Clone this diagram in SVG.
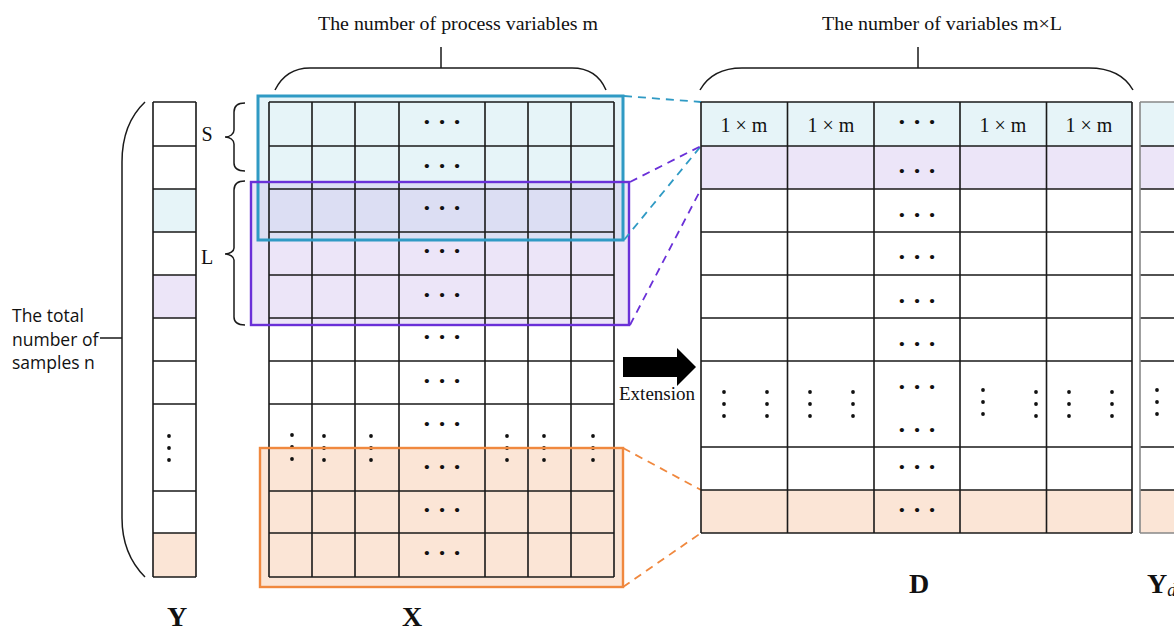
<svg xmlns="http://www.w3.org/2000/svg" xmlns:xlink="http://www.w3.org/1999/xlink" width="1174" height="633" viewBox="0 0 1174 633">
<style>
.grid{stroke:#1a1a1a;stroke-width:1.6;fill:none}
.gridg{stroke:#888;stroke-width:1.6;fill:none}
.br{stroke:#1a1a1a;stroke-width:1.5;fill:none}
.serif{font-family:"Liberation Serif","Times New Roman",serif;fill:#111}
.sans{font-family:"Open Sans","Noto Sans",sans-serif;fill:#111;font-size:17.5px}
.title{font-size:19px}
.lbl{font-size:28px;font-weight:bold}
.hd{font-family:"Liberation Serif",serif;font-size:26px;font-weight:bold;fill:#111;text-anchor:middle}
.cell{font-size:20px;text-anchor:middle}
.fb{fill:#e6f4f8}
.fp{fill:#ece5f8}
.fo{fill:#fbe5d6}
.dash-b{stroke:#2f9ac4;stroke-width:1.8;stroke-dasharray:8 6;fill:none}
.dash-p{stroke:#6a30d8;stroke-width:1.8;stroke-dasharray:8 6;fill:none}
.dash-o{stroke:#f0883e;stroke-width:1.8;stroke-dasharray:8 6;fill:none}
</style>
<defs>
<g id="vd"><circle cx="0" cy="0" r="1.9" fill="#111"/><circle cx="0" cy="12" r="1.9" fill="#111"/><circle cx="0" cy="24" r="1.9" fill="#111"/></g>
</defs>

<!-- titles and braces -->
<g id="title-x">
<text class="serif title" x="458" y="30" text-anchor="middle" textLength="280" lengthAdjust="spacingAndGlyphs">The number of process variables m</text>
<path class="br" d="M275,90 C282,76 293,68 310,68 L572,68 C589,68 600,76 606,90 M441,47 L441,68"/>
</g>
<g id="title-d">
<text class="serif title" x="942" y="30" text-anchor="middle" textLength="240" lengthAdjust="spacingAndGlyphs">The number of variables m×L</text>
<path class="br" d="M700,90 C708,76 722,68 742,68 L1089,68 C1110,68 1125,76 1133,90 M918,47 L918,68"/>
</g>

<!-- total samples label -->
<g id="label-n">
<text class="sans" x="12" y="322">The total</text>
<text class="sans" x="12" y="346">number of</text>
<text class="sans" x="12" y="369">samples n</text>
<path class="br" d="M100,338 L122,338 M145,102 C128,118 122,140 122,162 L122,518 C122,542 130,562 145,577"/>
</g>

<!-- Y column -->
<g id="matrix-Y">
<rect class="fb" x="153" y="189" width="43" height="43"/>
<rect class="fp" x="153" y="275" width="43" height="43"/>
<rect class="fo" x="153" y="533" width="43" height="44"/>
<path class="grid" d="M153,102 H196 M153,146 H196 M153,189 H196 M153,232 H196 M153,275 H196 M153,318 H196 M153,361 H196 M153,404 H196 M153,491 H196 M153,533 H196 M153,577 H196 M153,102 V577 M196,102 V577"/>
<use xlink:href="#vd" x="169" y="436"/>
<text class="serif lbl" x="177" y="626" text-anchor="middle">Y</text>
</g>

<!-- S / L braces -->
<g id="brace-S">
<path class="br" d="M245,103 C237,103 234,106 234,112 L234,130 C234,134 230,137 225,137 C230,137 234,140 234,144 L234,163 C234,168 237,171 245,171"/>
<text class="serif" x="207" y="141" font-size="20" text-anchor="middle">S</text>
</g>
<g id="brace-L">
<path class="br" d="M245,181 C237,181 234,184 234,190 L234,248 C234,251 230,254 225,254 C230,254 234,257 234,260 L234,317 C234,322 237,325 245,325"/>
<text class="serif" x="207" y="264" font-size="20" text-anchor="middle">L</text>
</g>

<!-- window fills (under grid) -->
<g id="window-fills">
<rect x="258" y="96" width="365" height="144" fill="#c8e6f0" fill-opacity="0.45"/>
<rect x="251" y="182" width="378" height="143" fill="#c8b4eb" fill-opacity="0.35"/>
<rect x="260" y="448" width="363" height="139" class="fo"/>
</g>

<!-- X matrix -->
<g id="matrix-X">
<path class="grid" d="M269,102 H614 M269,146 H614 M269,189 H614 M269,232 H614 M269,275 H614 M269,318 H614 M269,361 H614 M269,404 H614 M269,491 H614 M269,533 H614 M269,577 H614 M269,102 V577 M312,102 V577 M355,102 V577 M399,102 V577 M485,102 V577 M528,102 V577 M571,102 V577 M614,102 V577"/>
<text class="hd" x="442" y="130">· · ·</text>
<text class="hd" x="442" y="174">· · ·</text>
<text class="hd" x="442" y="216">· · ·</text>
<text class="hd" x="442" y="259">· · ·</text>
<text class="hd" x="442" y="303">· · ·</text>
<text class="hd" x="442" y="345">· · ·</text>
<text class="hd" x="442" y="389">· · ·</text>
<text class="hd" x="442" y="432">· · ·</text>
<text class="hd" x="442" y="475">· · ·</text>
<text class="hd" x="442" y="518">· · ·</text>
<text class="hd" x="442" y="561">· · ·</text>
<use xlink:href="#vd" x="292" y="435"/>
<use xlink:href="#vd" x="324" y="436"/>
<use xlink:href="#vd" x="371" y="436"/>
<use xlink:href="#vd" x="507" y="436"/>
<use xlink:href="#vd" x="544" y="436"/>
<use xlink:href="#vd" x="593" y="436"/>
<text class="serif lbl" x="412" y="626" text-anchor="middle">X</text>
</g>

<!-- window outlines -->
<g id="window-S"><rect x="258" y="96" width="365" height="144" fill="none" stroke="#2f9ac4" stroke-width="3"/></g>
<g id="window-L"><rect x="251" y="182" width="378" height="143" fill="none" stroke="#6a30d8" stroke-width="2.4"/></g>
<g id="window-last"><rect x="260" y="448" width="363" height="139" fill="none" stroke="#f0883e" stroke-width="2.4"/></g>

<!-- connectors -->
<g id="connectors">
<path class="dash-b" d="M624,96 L701,102 M624,240 L701,146"/>
<path class="dash-p" d="M630,182 L701,146 M630,325 L701,189"/>
<path class="dash-o" d="M623,448 L701,490 M623,587 L701,533"/>
</g>

<!-- extension arrow -->
<g id="arrow-extension">
<polygon points="623,357 677,357 677,348 696,367 677,386 677,377 623,377" fill="#000"/>
<text class="serif" x="657" y="400" font-size="19" text-anchor="middle">Extension</text>
</g>

<!-- D matrix -->
<g id="matrix-D">
<rect class="fb" x="701" y="102" width="431" height="44"/>
<rect class="fp" x="701" y="146" width="431" height="43"/>
<rect class="fo" x="701" y="490" width="431" height="43"/>
<path class="grid" d="M701,102 H1132 M701,146 H1132 M701,189 H1132 M701,232 H1132 M701,275 H1132 M701,318 H1132 M701,361 H1132 M701,447 H1132 M701,490 H1132 M701,533 H1132 M701,102 V533 M787.5,102 V533 M874,102 V533 M960,102 V533 M1046.5,102 V533 M1132,102 V533"/>
<text class="serif cell" x="744" y="132">1 × m</text>
<text class="serif cell" x="831" y="132">1 × m</text>
<text class="hd" x="917" y="130">· · ·</text>
<text class="serif cell" x="1003" y="132">1 × m</text>
<text class="serif cell" x="1089" y="132">1 × m</text>
<text class="hd" x="917" y="179">· · ·</text>
<text class="hd" x="917" y="223">· · ·</text>
<text class="hd" x="917" y="265">· · ·</text>
<text class="hd" x="917" y="309">· · ·</text>
<text class="hd" x="917" y="352">· · ·</text>
<text class="hd" x="917" y="395">· · ·</text>
<text class="hd" x="917" y="438">· · ·</text>
<text class="hd" x="917" y="475">· · ·</text>
<text class="hd" x="917" y="518">· · ·</text>
<use xlink:href="#vd" x="724" y="392"/>
<use xlink:href="#vd" x="767" y="392"/>
<use xlink:href="#vd" x="810" y="392"/>
<use xlink:href="#vd" x="853" y="392"/>
<use xlink:href="#vd" x="983" y="390"/>
<use xlink:href="#vd" x="1036" y="392"/>
<use xlink:href="#vd" x="1069" y="392"/>
<use xlink:href="#vd" x="1112" y="392"/>
<text class="serif lbl" x="919" y="593" text-anchor="middle">D</text>
</g>

<!-- Yd matrix (cut off at right edge) -->
<g id="matrix-Yd">
<rect class="fb" x="1140" y="102" width="40" height="44"/>
<rect class="fp" x="1140" y="146" width="40" height="43"/>
<rect class="fo" x="1140" y="490" width="40" height="43"/>
<path class="grid" d="M1140,146 H1180 M1140,189 H1180 M1140,232 H1180 M1140,275 H1180 M1140,318 H1180 M1140,361 H1180 M1140,447 H1180 M1140,490 H1180"/>
<path class="gridg" d="M1140,102 H1180 M1140,533 H1180 M1140,102 V533"/>
<use xlink:href="#vd" x="1157" y="390"/>
<text class="serif lbl" x="1147" y="593">Y<tspan font-size="18" font-weight="normal" font-style="italic" dy="3">d</tspan></text>
</g>
</svg>
